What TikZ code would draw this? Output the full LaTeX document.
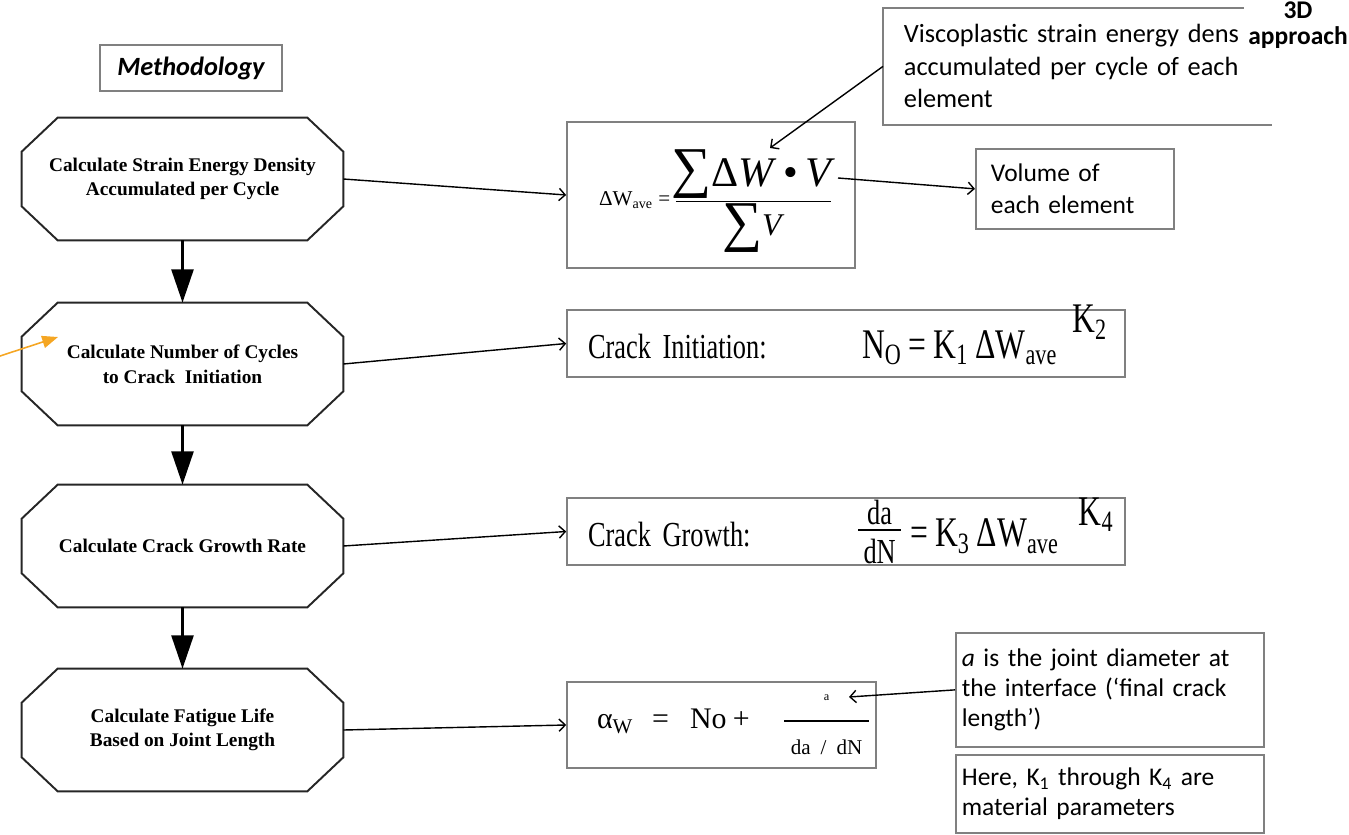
\documentclass[tikz,border=0pt]{standalone}
\usepackage{fontspec}
\usepackage{amsmath}
\usetikzlibrary{arrows.meta}
\setmainfont{Liberation Serif}
\newfontfamily\notefont{Carlito}
\newfontfamily\eqfont[FakeStretch=0.75]{Liberation Serif}
\definecolor{markorange}{RGB}{245,166,35}
\newcommand\bigsum{{\fontsize{32}{32}\selectfont ∑}}

\tikzset{
  calcbox/.style={minimum width=6.42cm, minimum height=2.44cm, inner sep=0pt,
    align=center, font=\bfseries\fontsize{11}{14}\selectfont},
  octline/.style={draw=black!85, line width=1.1pt},
  eqbox/.style={draw=black!50, line width=1pt, inner ysep=0pt},
  notebox/.style={draw=black!50, line width=1pt, align=left,
    font=\notefont\fontsize{14.5}{18}\selectfont},
  flow/.style={line width=1.6pt, -{Triangle[length=19pt,width=12.5pt]}},
  link/.style={line width=0.8pt, -{Straight Barb[length=3.5pt,width=7pt]}},
}

\begin{document}
\begin{tikzpicture}[x=0.02cm,y=-0.02cm]
    \clip (0,0) rectangle (1349,835);

    % Heading
    \node[draw=black!50, line width=0.8pt, minimum width=3.64cm, minimum height=0.92cm,
      font=\notefont\bfseries\itshape\fontsize{15}{18}\selectfont] (method) at (191,68) {Methodology};

    % Steps
    \node[calcbox] (sed) at (182.5,179) {Calculate Strain Energy Density\\Accumulated per Cycle};
    \node[calcbox] (init) at (182.5,364) {Calculate Number of Cycles\\to Crack~ Initiation};
    \node[calcbox] (growth) at (182.5,546) {Calculate Crack Growth Rate};
    \node[calcbox] (life) at (182.5,730) {Calculate Fatigue Life\\Based on Joint Length};

    % Octagon outlines
    \foreach \s in {sed,init,growth,life} {
        \draw[octline] ([xshift=0.72cm]\s.north west) -- ([xshift=-0.72cm]\s.north east)
          -- ([yshift=-0.68cm]\s.north east) -- ([yshift=0.68cm]\s.south east)
          -- ([xshift=-0.72cm]\s.south east) -- ([xshift=0.72cm]\s.south west)
          -- ([yshift=0.68cm]\s.south west) -- ([yshift=-0.68cm]\s.north west) -- cycle;
    }

    \foreach \a/\b in {sed/init, init/growth, growth/life} {
        \draw[flow] (\a) -- (\b);
    }

    % Equations
    \node[eqbox, minimum width=5.76cm, minimum height=2.92cm] (dweq) at (711,195) {};
    \node (dwexpr) at (716,201)
      {{\fontsize{12}{12}\selectfont ΔW\textsubscript{ave} =\,}$\dfrac{\makebox[3.1cm]{\bigsum{\fontsize{24}{24}\selectfont Δ\textit{W}\,•\,\textit{V}}}}{\mbox{\bigsum\raisebox{0.3em}{\fontsize{18}{18}\selectfont\textit{V}}}}$};
    \node[eqbox, minimum width=11.16cm, minimum height=1.34cm, text width=10.32cm, inner xsep=0.42cm,
      align=left, font=\eqfont\fontsize{20}{22}\selectfont] (initeq) at (846,343.5)
      {\raisebox{0pt}[27.4pt][10.6pt]{\makebox[10.32cm][l]{\makebox[5.48cm][l]{Crack Initiation:}{\fontsize{24}{24}\selectfont N\textsubscript{O}\,=\,K\textsubscript{1}\,ΔW\textsubscript{ave}\hspace{0.3cm}\raisebox{14.5pt}{K\textsubscript{2}}}}}};
    \node[eqbox, minimum width=11.16cm, minimum height=1.34cm, text width=10.32cm, inner xsep=0.42cm,
      align=left, font=\eqfont\fontsize{20}{22}\selectfont] (growtheq) at (846,531.5)
      {\raisebox{0pt}[27.8pt][10.2pt]{\makebox[10.32cm][l]{\makebox[5.36cm][l]{Crack Growth:}\raisebox{4.5pt}{$\frac{\mbox{da}}{\makebox[0.86cm]{\raisebox{-7pt}{dN}}}$}{\fontsize{24}{24}\selectfont\,=\,K\textsubscript{3}\,ΔW\textsubscript{ave}\hspace{0.4cm}\raisebox{12.5pt}{K\textsubscript{4}}}}}};
    \node[eqbox, minimum width=6.18cm, minimum height=1.72cm, text width=6.18cm, inner xsep=0pt,
      align=left, font=\fontsize{17}{18}\selectfont] (lifeeq) at (721.5,725)
      {\hspace*{0.6cm}\makebox[1.1cm][l]{α\textsubscript{W}}\makebox[0.76cm][l]{=}\makebox[0.86cm][l]{No}\makebox[0.98cm][l]{+}$\dfrac{\mbox{\fontsize{7}{7}\selectfont\raisebox{4pt}{a}}}{\makebox[1.7cm]{\fontsize{12}{12}\selectfont\raisebox{-3pt}{da~/~dN}}}$};

    \foreach \s/\e in {sed/dweq, init/initeq, growth/growtheq, life/lifeeq} {
        \draw[link] (\s.east) -- (\e.west);
    }

    % Notes
    \node[notebox, draw=none, anchor=north west, text width=6.94cm, inner xsep=0.4cm, minimum height=2.3cm,
      font=\notefont\fontsize{15}{18.5}\selectfont] (visco) at (883,8)
      {Viscoplastic strain energy dens\\accumulated per cycle of each\\element};
    \draw[black!50, line width=1pt] (visco.north east) -- (visco.north west) -- (visco.south west) -- (visco.south east);
    \node[fill=white, inner xsep=0.08cm, inner ysep=0pt, align=center,
      font=\notefont\bfseries\fontsize{14.5}{15}\selectfont] (approach) at (1298,25) {3D\\approach};

    \node[notebox, anchor=north west, text width=3.36cm, inner xsep=0.3cm, minimum height=1.6cm] (volume) at (975,148)
      {Volume of\\each element};
    \node[notebox, anchor=north west, text width=5.92cm, inner xsep=0.12cm, minimum height=2.28cm,
      font=\notefont\fontsize{14.5}{17}\selectfont] (diam) at (955,632)
      {\textit{a} is the joint diameter at\\the interface (‘final crack\\length’)};
    \node[notebox, anchor=north west, text width=5.92cm, inner xsep=0.12cm, minimum height=1.56cm,
      font=\notefont\fontsize{14.5}{17}\selectfont] (params) at (955,754)
      {Here, K\textsubscript{1} through K\textsubscript{4} are\\material parameters};

    % Pointers into the equations
    \coordinate (sumtip) at (770,148);
    \coordinate (sumend) at (838,178);
    \coordinate (atip) at (849,697);
    \draw[link] (visco.west) -- (sumtip);
    \draw[link] (sumend) -- (volume.west);
    \draw[link] (diam.west) -- (atip);

    % Marker
    \coordinate (mark0) at (0,356);
    \coordinate (mark1) at (58,337);
    \draw[markorange, line width=0.9pt, -{Triangle[length=9pt,width=7pt]}] (mark0) -- (mark1);
\end{tikzpicture}
\end{document}
